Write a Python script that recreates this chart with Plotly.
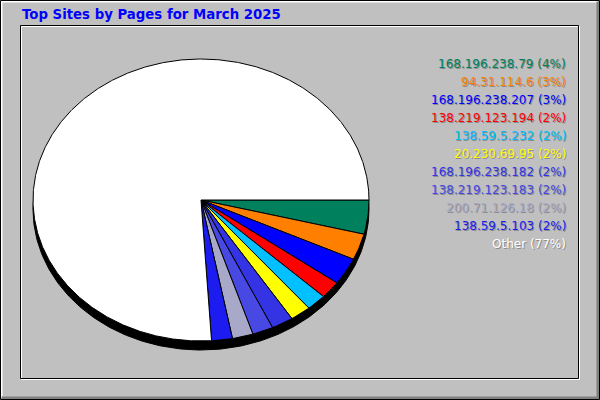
import numpy as np
import plotly.graph_objects as go

# top sites by pages, March 2025
sites = ["168.196.238.79", "94.31.114.6", "168.196.238.207", "138.219.123.194",
         "138.59.5.232", "20.230.69.95", "168.196.238.182", "138.219.123.183",
         "200.71.126.18", "138.59.5.103", "Other"]
pct_labels = [4, 3, 3, 2, 2, 2, 2, 2, 2, 2, 77]
shares = [3.9, 3.0, 3.1, 2.0, 1.9, 2.0, 2.1, 2.0, 2.0, 2.0, 76.0]
colors = ["#00805C", "#FF8000", "#0000FF", "#FF0000", "#00C0FF", "#FFFF00",
          "#3434E4", "#4848E2", "#A8A8C8", "#1C1CF0", "#FFFFFF"]
title = "Top Sites by Pages for March 2025"

W, H = 600, 400
CX, CY = 201, 200      # pie centre in pixels
RX, RY = 168, 141      # pie radii in pixels
SHADOW = 9             # depth of the 3d edge in pixels


def px(x):
    return x / W


def py(y):
    return 1 - y / H


def main():
    fig = go.Figure()

    # shadow under the pie
    t = np.linspace(0, 2 * np.pi, 400)
    fig.add_trace(go.Scatter(x=np.cos(t), y=np.sin(t) - SHADOW / RY, mode="lines",
                             fill="toself", fillcolor="black",
                             line=dict(color="black", width=1), hoverinfo="skip"))

    total = sum(shares)
    start = 0.0
    for s, c in zip(shares, colors):
        end = start + s / total * 2 * np.pi
        t = np.linspace(start, end, max(int(s * 8), 4))
        x = np.concatenate([[0], np.cos(t), [0]])
        y = np.concatenate([[0], -np.sin(t), [0]])
        fig.add_trace(go.Scatter(x=x, y=y, mode="lines", fill="toself", fillcolor=c,
                                 line=dict(color="black", width=1), hoverinfo="skip"))
        start = end

    ref = dict(xref="paper", yref="paper")
    shapes = [
        # outer bevel
        dict(type="path", path=f"M {px(1.5)} {py(398)} L {px(1.5)} {py(1.5)} L {px(598)} {py(1.5)}",
             line=dict(color="white", width=2), **ref),
        dict(type="path", path=f"M {px(1.5)} {py(398)} L {px(598)} {py(398)} L {px(598)} {py(1.5)}",
             line=dict(color="#808080", width=3), **ref),
        dict(type="rect", x0=px(0.5), y0=py(399.5), x1=px(599.5), y1=py(0.5),
             line=dict(color="black", width=1), **ref),
        # inner panel
        dict(type="rect", x0=px(21.5), y0=py(379.5), x1=px(579.5), y1=py(26.5),
             line=dict(color="white", width=1), **ref),
        dict(type="rect", x0=px(20.5), y0=py(378.5), x1=px(578.5), y1=py(25.5),
             line=dict(color="black", width=1), **ref),
    ]

    annotations = [dict(text=f"<b>{title}</b>", x=px(20), y=py(15), xanchor="left",
                        yanchor="middle", showarrow=False,
                        font=dict(family="DejaVu Sans", size=13.3, color="#0000FF"), **ref)]
    for i, (name, p, c) in enumerate(zip(sites, pct_labels, colors)):
        label = f"{name} ({p}%)"
        ypos = py(64 + 18 * i)
        annotations.append(dict(text=label, x=px(568), y=ypos, xanchor="right",
                                yanchor="middle", showarrow=False, xshift=1, yshift=-1,
                                font=dict(family="DejaVu Sans", size=12, color="#8C8C8C"), **ref))
        annotations.append(dict(text=label, x=px(568), y=ypos, xanchor="right",
                                yanchor="middle", showarrow=False,
                                font=dict(family="DejaVu Sans", size=12, color=c), **ref))

    fig.update_layout(
        width=W, height=H, autosize=False,
        margin=dict(l=0, r=0, t=0, b=0),
        paper_bgcolor="#C0C0C0", plot_bgcolor="rgba(0,0,0,0)",
        showlegend=False,
        xaxis=dict(range=[-CX / RX, (W - CX) / RX], visible=False, fixedrange=True),
        yaxis=dict(range=[-(H - CY) / RY, CY / RY], visible=False, fixedrange=True),
        shapes=shapes,
        annotations=annotations,
    )
    fig.write_html("out.html", config=dict(displayModeBar=False),
                   post_script="document.body.style.margin='0';"
                               "document.body.style.overflow='hidden';")


if __name__ == '__main__':
    main()
